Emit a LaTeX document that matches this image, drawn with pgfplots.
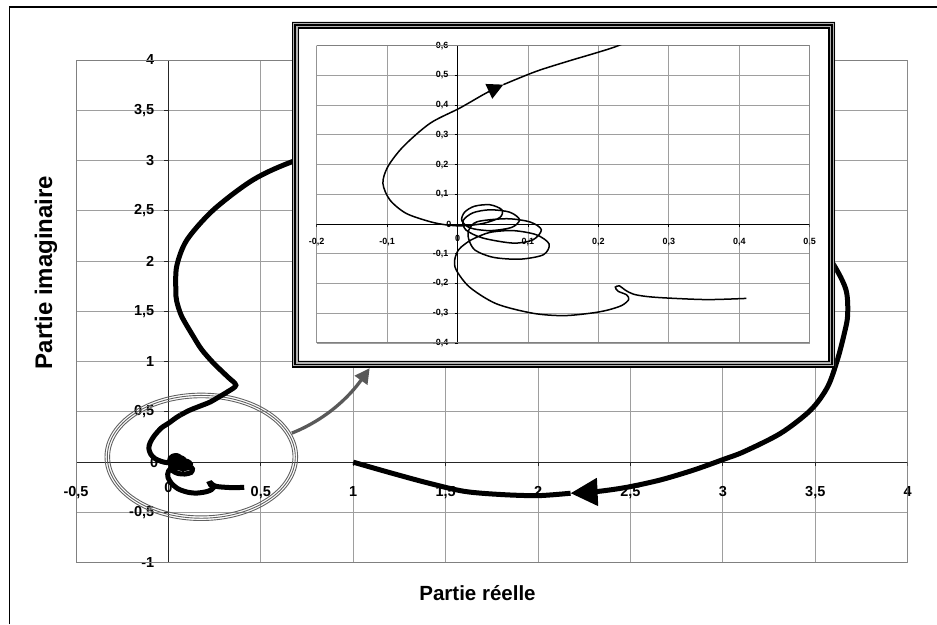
\documentclass[border=0pt]{standalone}
\usepackage{fontspec}
\setmainfont{Liberation Sans}
\usepackage{pgfplots}
\usepackage{pgfplotstable}
\pgfplotsset{compat=1.18}
\usetikzlibrary{arrows.meta}

% inner part: tail, curls, up to the arrow of the inset
\pgfplotstableread{
x y
0.410 -0.250
0.355 -0.254
0.300 -0.249
0.270 -0.244
0.250 -0.236
0.238 -0.222
0.230 -0.208
0.224 -0.212
0.228 -0.226
0.240 -0.238
0.243 -0.254
0.233 -0.274
0.212 -0.290
0.188 -0.300
0.150 -0.308
0.107 -0.300
0.055 -0.268
0.017 -0.212
-0.002 -0.154
-0.004 -0.120
0.001 -0.088
0.010 -0.068
0.022 -0.050
0.046 -0.028
0.079 -0.022
0.112 -0.036
0.130 -0.067
0.122 -0.103
0.089 -0.118
0.051 -0.112
0.025 -0.088
0.016 -0.052
0.016 -0.020
0.028 0.008
0.070 0.018
0.103 0.007
0.119 -0.019
0.107 -0.053
0.079 -0.064
0.036 -0.047
0.012 -0.020
0.008 0.012
0.022 0.038
0.046 0.048
0.074 0.040
0.088 0.015
0.077 -0.011
0.046 -0.022
0.018 -0.013
0.006 0.012
0.010 0.040
0.024 0.060
0.046 0.065
0.063 0.048
0.060 0.022
0.036 0.002
0.008 -0.006
-0.015 -0.003
-0.039 0.008
-0.073 0.036
-0.096 0.081
-0.106 0.137
-0.099 0.193
-0.077 0.261
-0.039 0.339
0.003 0.390
0.040 0.440
0.065 0.469
}\inner

% outer part: big loop, down to the arrow on the bottom
\pgfplotstableread{
x y
0.065 0.469
0.112 0.514
0.160 0.550
0.197 0.576
0.228 0.600
0.270 0.645
0.320 0.700
0.365 0.765
0.320 0.850
0.244 0.985
0.180 1.120
0.135 1.250
0.072 1.450
0.045 1.600
0.040 1.710
0.045 1.950
0.100 2.210
0.244 2.510
0.460 2.810
0.686 3.000
1.100 3.250
1.800 3.350
2.500 3.150
3.100 2.750
3.450 2.350
3.594 1.980
3.666 1.714
3.675 1.460
3.657 1.280
3.620 1.020
3.567 0.750
3.476 0.520
3.314 0.289
3.115 0.105
3.007 0.030
2.844 -0.077
2.664 -0.176
2.483 -0.249
2.320 -0.292
2.176 -0.309
}\outer

\pgfplotstableread{
x y
2.176 -0.309
2.000 -0.333
1.800 -0.322
1.600 -0.290
1.400 -0.205
1.200 -0.105
1.000 0.000
}\last

\begin{document}
\begin{tikzpicture}
\useasboundingbox (0,0) rectangle (937pt,624pt);
\draw[line width=1.2pt] (9.3pt,0pt) -- (9.3pt,617pt) -- (940pt,617pt);

\begin{axis}[
  at={(76pt,61.3pt)}, anchor=south west,
  scale only axis, width=831.7pt, height=502.7pt,
  xmin=-0.5, xmax=4, ymin=-1, ymax=4,
  axis lines=middle, axis line style={-, black!85, line width=1.2pt},
  xtick={-0.5,0,0.5,1,1.5,2,2.5,3,3.5,4},
  ytick={-1,-0.5,0,0.5,1,1.5,2,2.5,3,3.5,4},
  tick align=outside, major tick length=4pt,
  tick style={black!85, line width=1pt},
  grid=major, major grid style={black!38, line width=0.9pt},
  /pgf/number format/use comma,
  /pgf/number format/assume math mode=true,
  ticklabel style={font=\bfseries\fontsize{14.5}{14.5}\selectfont, inner sep=0pt},
  xticklabel style={anchor=base, yshift=-30pt},
  yticklabel style={anchor=east, xshift=-10pt},
]
\draw[black!50, line width=1.3pt] (rel axis cs:0,0) rectangle (rel axis cs:1,1);
\draw[black!62, line width=0.9pt] (axis cs:0.178,0.053) ellipse [x radius=96.3pt, y radius=63.7pt];
\draw[black!62, line width=0.9pt] (axis cs:0.178,0.053) ellipse [x radius=94pt, y radius=61.4pt];
\draw[black!62, line width=0.9pt] (axis cs:0.178,0.053) ellipse [x radius=91.7pt, y radius=59.1pt];
\node[font=\bfseries\fontsize{14.5}{14.5}\selectfont, inner sep=0pt, anchor=base, yshift=-30pt] at (axis cs:0,0) {0};
\node[font=\bfseries\fontsize{14.5}{14.5}\selectfont, inner sep=0pt, anchor=east, xshift=-10pt] at (axis cs:0,0) {0};
\addplot[black, line width=5pt, smooth] table {\inner};
\addplot[black, line width=5pt, smooth, -{Triangle[length=27pt,width=27pt]}] table {\outer};
\addplot[black, line width=5pt, smooth] table {\last};
\draw[black!65, line width=3.3pt, -{Triangle[length=15pt,width=15pt]}]
  (axis cs:0.668,0.289) .. controls +(35pt,14pt) and +(-20pt,-28pt) .. (axis cs:1.089,0.935);
\end{axis}

\node[rotate=90, anchor=base, font=\bfseries\fontsize{24}{24}\selectfont] at (52pt,351.5pt) {Partie imaginaire};
\node[anchor=base, font=\bfseries\fontsize{20.5}{20.5}\selectfont] at (477.5pt,24pt) {Partie réelle};

% inset frame
\fill[white] (292pt,256.3pt) rectangle (835pt,602.3pt);
\fill[black!30, even odd rule] (292pt,256.3pt) rectangle (835pt,602.3pt)
  (299pt,263.3pt) rectangle (828pt,595.3pt);
\draw[black, line width=1.2pt] (292.6pt,256.9pt) rectangle (834.4pt,601.7pt);
\draw[black, line width=1.7pt] (295.2pt,259.5pt) rectangle (831.8pt,599.1pt);
\draw[black, line width=1.4pt] (298.2pt,262.5pt) rectangle (828.8pt,596.1pt);

\begin{axis}[
  at={(316.7pt,281pt)}, anchor=south west,
  scale only axis, width=493pt, height=297.3pt,
  xmin=-0.2, xmax=0.5, ymin=-0.4, ymax=0.6,
  axis lines=middle, axis line style={-, black, line width=1pt},
  xtick={-0.2,-0.1,0,0.1,0.2,0.3,0.4,0.5},
  ytick={-0.4,-0.3,-0.2,-0.1,0,0.1,0.2,0.3,0.4,0.5,0.6},
  tick align=outside, major tick length=3pt,
  tick style={black, line width=0.8pt},
  grid=major, major grid style={black!38, line width=0.9pt},
  /pgf/number format/use comma,
  /pgf/number format/assume math mode=true,
  ticklabel style={font=\bfseries\fontsize{9}{9}\selectfont, inner sep=0pt},
  xticklabel style={anchor=base, yshift=-17pt},
  yticklabel style={anchor=east, xshift=-6pt},
]
\draw[black!50, line width=1pt] (rel axis cs:0,0) rectangle (rel axis cs:1,1);
\node[font=\bfseries\fontsize{9}{9}\selectfont, inner sep=0pt, anchor=base, yshift=-17pt] at (axis cs:0,0) {0};
\node[font=\bfseries\fontsize{9}{9}\selectfont, inner sep=0pt, anchor=east, xshift=-6pt] at (axis cs:0,0) {0};
\addplot[black, line width=1.5pt, smooth, -{Triangle[length=16pt,width=16pt]}] table {\inner};
\addplot[black, line width=1.5pt, smooth] table {\outer};
\end{axis}
\end{tikzpicture}
\end{document}
